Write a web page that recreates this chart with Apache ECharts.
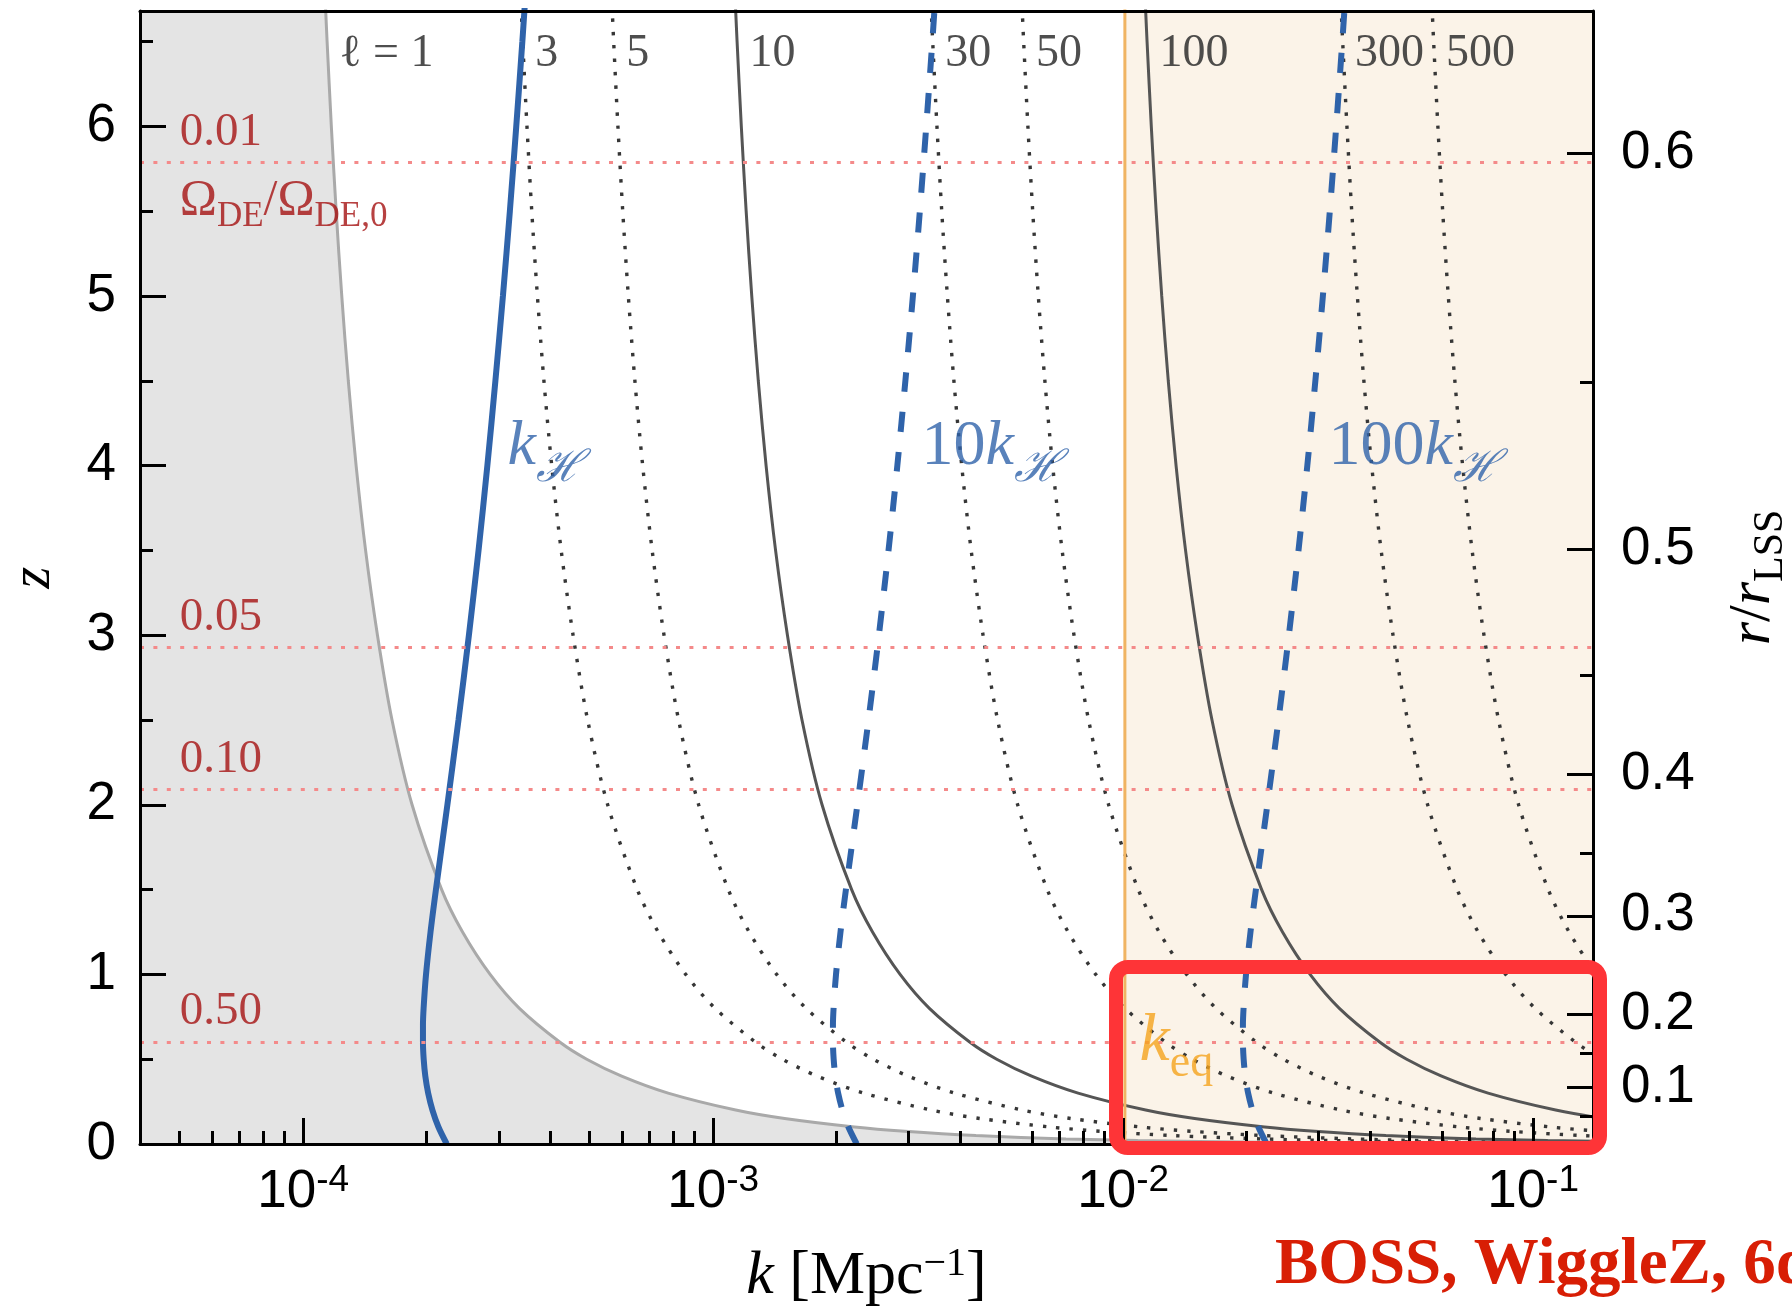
<!DOCTYPE html>
<html>
<head>
<meta charset="utf-8">
<title>k - z</title>
<script src="https://cdn.jsdelivr.net/npm/echarts@6/dist/echarts.min.js"></script>
<style>
    html, body { margin: 0; padding: 0; background: #fff; }
    #main { width: 1792px; height: 1313px; }
</style>
</head>
<body>
<div id="main"></div>
<script>
// axis ranges
var kMin = 4e-5, kMax = 0.14, zMax = 6.68;
var kEq = 0.0101;

// ticks
var kMajorTicks = [1e-4, 1e-3, 1e-2, 1e-1];
var kMinorTicks = [5e-5, 6e-5, 7e-5, 8e-5, 9e-5,
    2e-4, 3e-4, 4e-4, 5e-4, 6e-4, 7e-4, 8e-4, 9e-4,
    2e-3, 3e-3, 4e-3, 5e-3, 6e-3, 7e-3, 8e-3, 9e-3,
    2e-2, 3e-2, 4e-2, 5e-2, 6e-2, 7e-2, 8e-2, 9e-2];
var zMajorTicks = [0, 1, 2, 3, 4, 5, 6];
var zMinorTicks = [0.5, 1.5, 2.5, 3.5, 4.5, 5.5, 6.5];
// right axis r/r_LSS: where its ticks sit in z
var rMajorLabels = ['0.1', '0.2', '0.3', '0.4', '0.5', '0.6'];
var rMajorZ = [0.332, 0.765, 1.345, 2.180, 3.504, 5.841];
var rMinorZ = [0.161, 0.535, 1.032, 1.715, 2.761, 4.491];

// Omega_DE / Omega_DE,0 levels
var deLabels = ['0.01', '0.05', '0.10', '0.50'];
var deZ = [5.79, 2.93, 2.09, 0.605];

// l = const curves, k read along a shared z grid
var zGrid = [0.002, 0.005, 0.01, 0.02, 0.03, 0.05, 0.075, 0.1, 0.15, 0.2, 0.3, 0.4, 0.5, 0.6, 0.8,
    1.0, 1.25, 1.5, 2.0, 2.5, 3.0, 3.5, 4.0, 4.5, 5.0, 5.5, 6.0, 6.5, 6.7];
var ellValues = [1, 3, 5, 10, 30, 50, 100, 300, 500];
var kEll1 = [0.10805, 0.04327, 0.02166, 0.010856, 0.007256, 0.004374, 0.002933, 0.002213, 0.0014943, 0.0011351,
    0.0007766, 0.0005982, 0.0004917, 0.0004232, 0.0003369, 0.0002858, 0.0002448, 0.0002177, 0.00018437, 0.00016473,
    0.0001518, 0.00014201, 0.00013464, 0.00012887, 0.00012422, 0.00012038, 0.00011715, 0.0001144, 0.00011341];
var kEll3 = [0.3242, 0.1298, 0.06498, 0.03257, 0.02177, 0.01312, 0.008799, 0.006639, 0.004483, 0.003405,
    0.00233, 0.001795, 0.001475, 0.00127, 0.001011, 0.0008574, 0.0007344, 0.0006531, 0.0005531, 0.0004942,
    0.0004554, 0.000426, 0.0004039, 0.0003866, 0.0003727, 0.0003611, 0.0003515, 0.0003432, 0.0003402];
var kEll5 = [0.5403, 0.2164, 0.1083, 0.05428, 0.03628, 0.02187, 0.01467, 0.01107, 0.007472, 0.005676,
    0.003883, 0.002991, 0.002459, 0.002116, 0.001685, 0.001429, 0.001224, 0.001089, 0.0009219, 0.0008237,
    0.000759, 0.0007101, 0.0006732, 0.0006444, 0.0006211, 0.0006019, 0.0005858, 0.000572, 0.0005671];
var kEll10 = [1.0805, 0.4327, 0.2166, 0.10856, 0.07256, 0.04374, 0.02933, 0.02213, 0.014943, 0.011351,
    0.007766, 0.005982, 0.004917, 0.004232, 0.003369, 0.002858, 0.002448, 0.002177, 0.0018437, 0.0016473,
    0.001518, 0.0014201, 0.0013464, 0.0012887, 0.0012422, 0.0012038, 0.0011715, 0.001144, 0.0011341];
var kEll30 = [3.242, 1.298, 0.6498, 0.3257, 0.2177, 0.1312, 0.08799, 0.06639, 0.04483, 0.03405,
    0.0233, 0.01795, 0.01475, 0.0127, 0.01011, 0.008574, 0.007344, 0.006531, 0.005531, 0.004942,
    0.004554, 0.00426, 0.004039, 0.003866, 0.003727, 0.003611, 0.003515, 0.003432, 0.003402];
var kEll50 = [5.403, 2.164, 1.083, 0.5428, 0.3628, 0.2187, 0.1467, 0.1107, 0.07472, 0.05676,
    0.03883, 0.02991, 0.02459, 0.02116, 0.01685, 0.01429, 0.01224, 0.01089, 0.009219, 0.008237,
    0.00759, 0.007101, 0.006732, 0.006444, 0.006211, 0.006019, 0.005858, 0.00572, 0.005671];
var kEll100 = [10.805, 4.327, 2.166, 1.0856, 0.7256, 0.4374, 0.2933, 0.2213, 0.14943, 0.11351,
    0.07766, 0.05982, 0.04917, 0.04232, 0.03369, 0.02858, 0.02448, 0.02177, 0.018437, 0.016473,
    0.01518, 0.014201, 0.013464, 0.012887, 0.012422, 0.012038, 0.011715, 0.01144, 0.011341];
var kEll300 = [32.42, 12.98, 6.498, 3.257, 2.177, 1.312, 0.8799, 0.6639, 0.4483, 0.3405,
    0.233, 0.1795, 0.1475, 0.127, 0.1011, 0.08574, 0.07344, 0.06531, 0.05531, 0.04942,
    0.04554, 0.0426, 0.04039, 0.03866, 0.03727, 0.03611, 0.03515, 0.03432, 0.03402];
var kEll500 = [54.03, 21.64, 10.83, 5.428, 3.628, 2.187, 1.467, 1.107, 0.7472, 0.5676,
    0.3883, 0.2991, 0.2459, 0.2116, 0.1685, 0.1429, 0.1224, 0.1089, 0.09219, 0.08237,
    0.0759, 0.07101, 0.06732, 0.06444, 0.06211, 0.06019, 0.05858, 0.0572, 0.05671];
var ellK = [kEll1, kEll3, kEll5, kEll10, kEll30, kEll50, kEll100, kEll300, kEll500];

// comoving Hubble scale and multiples
var zH = [0, 0.1, 0.2, 0.3, 0.4, 0.5, 0.6, 0.7, 0.8, 1.0, 1.25, 1.5, 2.0, 2.5, 3.0, 3.5, 4.0, 4.5, 5.0, 5.5, 6.0, 6.5, 6.7];
var kH = [2.240e-4, 2.138e-4, 2.067e-4, 2.018e-4, 1.986e-4, 1.968e-4, 1.960e-4, 1.960e-4, 1.967e-4, 1.994e-4,
    2.045e-4, 2.108e-4, 2.248e-4, 2.393e-4, 2.537e-4, 2.678e-4, 2.814e-4, 2.944e-4, 3.071e-4, 3.193e-4,
    3.310e-4, 3.425e-4, 3.469e-4];
var k10H = [2.240e-3, 2.138e-3, 2.067e-3, 2.018e-3, 1.986e-3, 1.968e-3, 1.960e-3, 1.960e-3, 1.967e-3, 1.994e-3,
    2.045e-3, 2.108e-3, 2.248e-3, 2.393e-3, 2.537e-3, 2.678e-3, 2.814e-3, 2.944e-3, 3.071e-3, 3.193e-3,
    3.310e-3, 3.425e-3, 3.469e-3];
var k100H = [2.240e-2, 2.138e-2, 2.067e-2, 2.018e-2, 1.986e-2, 1.968e-2, 1.960e-2, 1.960e-2, 1.967e-2, 1.994e-2,
    2.045e-2, 2.108e-2, 2.248e-2, 2.393e-2, 2.537e-2, 2.678e-2, 2.814e-2, 2.944e-2, 3.071e-2, 3.193e-2,
    3.310e-2, 3.425e-2, 3.469e-2];

var serif = '"Liberation Serif", "DejaVu Serif", serif';
var sans = '"Liberation Sans", Arial, sans-serif';
var blue = '#2f63aa';
var darkRed = '#a51212';

function pairs(ks, zs) {
    return zs.map(function (z, i) { return [ks[i], z]; });
}

var myChart = echarts.init(document.getElementById('main'));

// shaded region left of the l=1 curve
var grayData = [[kMin, 6.7]];
for (var i = zGrid.length - 1; i >= 0; i--) {
    grayData.push([kEll1[i], zGrid[i]]);
}

var series = [];
series.push({
    name: 'keqBand', type: 'line', silent: true, symbol: 'none',
    data: [[kEq, 6.7], [kMax, 6.7]],
    lineStyle: {width: 0},
    areaStyle: {color: '#fbf3e8', opacity: 1}
});
series.push({
    name: 'horizon', type: 'line', silent: true, symbol: 'none',
    data: grayData,
    lineStyle: {width: 0},
    areaStyle: {color: '#e4e4e4', opacity: 1},
    markLine: {
        silent: true, symbol: ['none', 'none'], label: {show: false},
        lineStyle: {color: '#f48a8a', type: [4, 9.4], width: 3},
        data: deZ.map(function (z) { return {yAxis: z}; })
    }
});
ellValues.forEach(function (l, i) {
    var dotted = !(l === 1 || l === 10 || l === 100);
    series.push({
        name: 'l=' + l, type: 'line', silent: true, symbol: 'none', smooth: 0.3,
        data: pairs(ellK[i], zGrid),
        lineStyle: {
            color: l === 1 ? '#a9a9a9' : (dotted ? '#363636' : '#555'),
            width: dotted ? 3.4 : 3,
            type: dotted ? [3.4, 10] : 'solid'
        }
    });
});
series.push({
    name: 'keq', type: 'line', silent: true, symbol: 'none',
    data: [[kEq, 0], [kEq, 6.7]],
    lineStyle: {color: '#f0b462', width: 3}
});
[kH, k10H, k100H].forEach(function (ks, i) {
    series.push({
        name: ['kH', '10kH', '100kH'][i], type: 'line', silent: true, symbol: 'none', smooth: 0.3,
        data: pairs(ks, zH),
        lineStyle: {color: blue, width: 6, type: i === 0 ? 'solid' : [20, 20]}
    });
});

// text annotations anchored in data coordinates
var notes = [];
ellValues.forEach(function (l, i) {
    notes.push({
        value: [ellK[i][ellK[i].length - 1], zMax],
        label: {
            formatter: l === 1 ? 'ℓ = 1' : String(l),
            offset: [14, 20], verticalAlign: 'top',
            fontFamily: serif, fontSize: 46, color: '#222'
        }
    });
});
deZ.forEach(function (z, i) {
    notes.push({
        value: [5e-5, z],
        label: {formatter: deLabels[i], verticalAlign: 'bottom', offset: [0, -6],
            fontFamily: serif, fontSize: 47, color: darkRed}
    });
});
notes.push({
    value: [5e-5, deZ[0]],
    label: {
        formatter: '{m|Ω}{s|DE}{m|/Ω}{s|DE,0}', verticalAlign: 'top', offset: [0, 13],
        rich: {
            m: {fontFamily: serif, fontSize: 50, color: darkRed, lineHeight: 52},
            s: {fontFamily: serif, fontSize: 35, color: darkRed, lineHeight: 35, padding: [32, 0, 0, 0]}
        }
    }
});
var hRich = {
    n: {fontFamily: serif, fontSize: 64, color: blue, lineHeight: 66},
    k: {fontFamily: serif, fontStyle: 'italic', fontSize: 64, color: blue, lineHeight: 66},
    h: {fontFamily: serif, fontStyle: 'italic', fontSize: 44, color: blue, lineHeight: 44, padding: [44, 0, 0, 0]}
};
notes.push({value: [3.15e-4, 4.106], label: {formatter: '{k|k}{h|ℋ}', rich: hRich}});
notes.push({value: [3.225e-3, 4.106], label: {formatter: '{n|10}{k|k}{h|ℋ}', rich: hRich}});
notes.push({value: [3.168e-2, 4.106], label: {formatter: '{n|100}{k|k}{h|ℋ}', rich: hRich}});
notes.push({
    value: [1.097e-2, 0.602],
    label: {
        formatter: '{k|k}{s|eq}',
        rich: {
            k: {fontFamily: serif, fontStyle: 'italic', fontSize: 68, color: '#f5a21b', lineHeight: 68},
            s: {fontFamily: serif, fontSize: 46, color: '#f5a21b', lineHeight: 46, padding: [44, 0, 0, 0]}
        }
    }
});
series.push({
    name: 'notes', type: 'scatter', silent: true, clip: false,
    symbolSize: 1, itemStyle: {color: 'rgba(0,0,0,0)'},
    label: {show: true, position: 'inside', align: 'left', verticalAlign: 'middle'},
    data: notes,
    z: 20
});

var axisLine = {show: true, onZero: false, lineStyle: {color: '#000', width: 3}};
var tickStyle = {color: '#000', width: 3};

var option = {
    animation: false,
    backgroundColor: '#fff',
    grid: {left: 140, right: 199, top: 11, bottom: 169, containLabel: false, outerBoundsMode: 'none'},
    xAxis: [
        {
            type: 'log', logBase: 10, min: kMin, max: kMax, position: 'bottom', z: 10,
            axisLine: axisLine,
            axisTick: {show: true, inside: true, length: 26, lineStyle: tickStyle, customValues: kMajorTicks},
            axisLabel: {
                show: true, margin: 18, customValues: kMajorTicks,
                formatter: function (v) { return '{b|10}{s|' + Math.round(Math.log10(v)) + '}'; },
                rich: {
                    b: {fontFamily: sans, fontSize: 53, color: '#000', lineHeight: 60},
                    s: {fontFamily: sans, fontSize: 37, color: '#000', lineHeight: 37, verticalAlign: 'top'}
                }
            },
            splitLine: {show: false},
            name: '{i|k}{n| [Mpc}{s|−1}{n|]}', nameLocation: 'middle', nameGap: 100, nameMoveOverlap: false,
            nameTextStyle: {
                rich: {
                    i: {fontFamily: serif, fontStyle: 'italic', fontSize: 62, color: '#000', lineHeight: 66},
                    n: {fontFamily: serif, fontSize: 62, color: '#000', lineHeight: 66},
                    s: {fontFamily: serif, fontSize: 40, color: '#000', lineHeight: 40, verticalAlign: 'top'}
                }
            }
        },
        {
            type: 'log', logBase: 10, min: kMin, max: kMax, position: 'bottom', z: 10,
            axisLine: {show: false},
            axisTick: {show: true, inside: true, length: 13, lineStyle: tickStyle, customValues: kMinorTicks},
            axisLabel: {show: false}, splitLine: {show: false}
        },
        {
            type: 'log', logBase: 10, min: kMin, max: kMax, position: 'top', z: 10,
            axisLine: axisLine, axisTick: {show: false}, axisLabel: {show: false}, splitLine: {show: false}
        }
    ],
    yAxis: [
        {
            type: 'value', min: 0, max: zMax, position: 'left', z: 10,
            axisLine: axisLine,
            axisTick: {show: true, inside: true, length: 26, lineStyle: tickStyle, customValues: zMajorTicks},
            axisLabel: {show: true, margin: 24, customValues: zMajorTicks,
                fontFamily: sans, fontSize: 53, color: '#000'},
            splitLine: {show: false},
            name: 'z', nameLocation: 'middle', nameRotate: 90, nameGap: 78, nameMoveOverlap: false,
            nameTextStyle: {fontFamily: serif, fontStyle: 'italic', fontSize: 56, color: '#000'}
        },
        {
            type: 'value', min: 0, max: zMax, position: 'left', z: 10,
            axisLine: {show: false},
            axisTick: {show: true, inside: true, length: 13, lineStyle: tickStyle, customValues: zMinorTicks},
            axisLabel: {show: false}, splitLine: {show: false}
        },
        {
            type: 'value', min: 0, max: zMax, position: 'right', z: 10,
            axisLine: axisLine,
            axisTick: {show: true, inside: true, length: 26, lineStyle: tickStyle, customValues: rMajorZ},
            axisLabel: {
                show: true, margin: 28, customValues: rMajorZ,
                fontFamily: sans, fontSize: 53, color: '#000',
                formatter: function (v) {
                    for (var j = 0; j < rMajorZ.length; j++) {
                        if (Math.abs(rMajorZ[j] - v) < 1e-6) return rMajorLabels[j];
                    }
                    return '';
                }
            },
            splitLine: {show: false},
            name: '{i|r}{n|/}{i|r}{s|LSS}', nameLocation: 'middle', nameRotate: 90, nameGap: 130,
            nameMoveOverlap: false,
            nameTextStyle: {
                rich: {
                    i: {fontFamily: serif, fontStyle: 'italic', fontSize: 60, color: '#000', lineHeight: 60},
                    n: {fontFamily: serif, fontSize: 60, color: '#000', lineHeight: 60},
                    s: {fontFamily: serif, fontSize: 42, color: '#000', lineHeight: 42, padding: [36, 0, 0, 0]}
                }
            }
        },
        {
            type: 'value', min: 0, max: zMax, position: 'right', z: 10,
            axisLine: {show: false},
            axisTick: {show: true, inside: true, length: 13, lineStyle: tickStyle, customValues: rMinorZ},
            axisLabel: {show: false}, splitLine: {show: false}
        }
    ],
    series: series,
    graphic: [
        {
            type: 'rect', z: 100, silent: true,
            shape: {x: 1116, y: 967, width: 484, height: 181, r: 12},
            style: {fill: 'none', stroke: '#fe3437', lineWidth: 14}
        },
        {
            type: 'text', z: 100, silent: true, x: 1275, y: 1266,
            style: {
                text: 'BOSS, WiggleZ, 6dFGS', fill: '#d81e05',
                font: 'bold 65px "Liberation Serif"', align: 'left', verticalAlign: 'middle'
            }
        }
    ]
};
myChart.setOption(option);
</script>
</body>
</html>
